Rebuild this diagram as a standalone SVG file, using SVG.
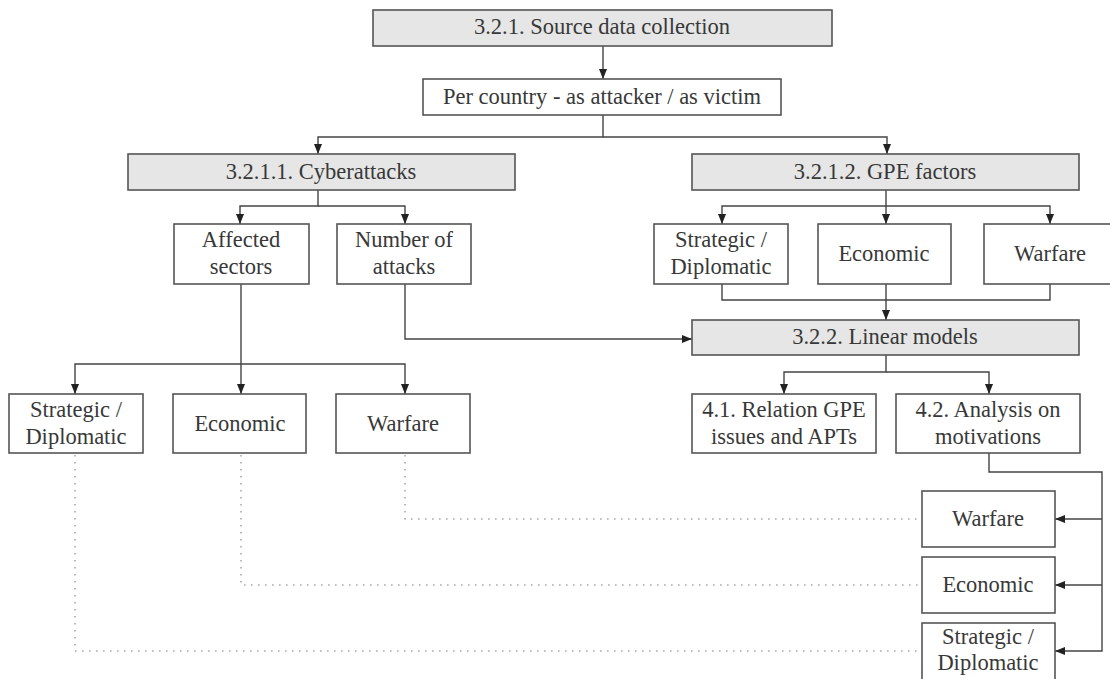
<svg xmlns="http://www.w3.org/2000/svg" width="1110" height="679" viewBox="0 0 1110 679">
<defs>
<style>
.box{fill:#ffffff;stroke:#555;stroke-width:1.6}
.gray{fill:#e6e6e6;stroke:#555;stroke-width:1.6}
.t{font-family:"Liberation Serif","Times New Roman",serif;font-size:22.5px;fill:#383838;text-anchor:middle}
.c{fill:none;stroke:#444;stroke-width:1.4}
.d{fill:none;stroke:#aaa;stroke-width:1.6;stroke-dasharray:1.6,5.4}
</style>
<marker id="ah" markerUnits="userSpaceOnUse" markerWidth="10" markerHeight="10" viewBox="0 0 10 10" refX="10" refY="5" orient="auto">
<path d="M0,1 L10,5 L0,9 Z" fill="#222"/>
</marker>
</defs>
<rect width="1110" height="679" fill="#ffffff"/>
<g id="connectors">
<path class="c" d="M603 46 V79" marker-end="url(#ah)"/>
<path class="c" d="M603 115 V137 H318 V154" marker-end="url(#ah)"/>
<path class="c" d="M603 137 H887 V154" marker-end="url(#ah)"/>
<path class="c" d="M318 190 V206 H240 V224" marker-end="url(#ah)"/>
<path class="c" d="M318 206 H405 V224" marker-end="url(#ah)"/>
<path class="c" d="M241 284 V394" marker-end="url(#ah)"/>
<path class="c" d="M241 364 H75 V394" marker-end="url(#ah)"/>
<path class="c" d="M241 364 H405 V394" marker-end="url(#ah)"/>
<path class="c" d="M405 284 V339 H692" marker-end="url(#ah)"/>
<path class="c" d="M886 190 V224" marker-end="url(#ah)"/>
<path class="c" d="M886 206 H722 V224" marker-end="url(#ah)"/>
<path class="c" d="M886 206 H1050 V224" marker-end="url(#ah)"/>
<path class="c" d="M722 284 V300 H1050 V284"/>
<path class="c" d="M886 284 V320" marker-end="url(#ah)"/>
<path class="c" d="M886 355 V372 H784 V394" marker-end="url(#ah)"/>
<path class="c" d="M886 372 H989 V394" marker-end="url(#ah)"/>
<path class="c" d="M989 453 V472 H1102 V651 H1055" marker-end="url(#ah)"/>
<path class="c" d="M1102 519 H1055" marker-end="url(#ah)"/>
<path class="c" d="M1102 585 H1055" marker-end="url(#ah)"/>
<path class="d" d="M405 455 V519 H922"/>
<path class="d" d="M241 455 V585 H922"/>
<path class="d" d="M75 455 V651 H922"/>
</g>
<g id="n-source"><rect class="gray" x="373" y="10" width="459" height="36"/><text class="t" x="602" y="34">3.2.1. Source data collection</text></g>
<g id="n-percountry"><rect class="box" x="423" y="79" width="358" height="36"/><text class="t" x="602" y="104">Per country - as attacker / as victim</text></g>
<g id="n-cyber"><rect class="gray" x="128" y="154" width="387" height="36"/><text class="t" x="321" y="179">3.2.1.1. Cyberattacks</text></g>
<g id="n-gpe"><rect class="gray" x="692" y="154" width="387" height="36"/><text class="t" x="885" y="179">3.2.1.2. GPE factors</text></g>
<g id="n-affected"><rect class="box" x="174" y="224" width="135" height="60"/><text class="t" x="241" y="247">Affected</text><text class="t" x="241" y="274">sectors</text></g>
<g id="n-number"><rect class="box" x="337" y="224" width="134" height="60"/><text class="t" x="404" y="247">Number of</text><text class="t" x="404" y="274">attacks</text></g>
<g id="n-gstrat"><rect class="box" x="654" y="224" width="134" height="60"/><text class="t" x="721" y="247">Strategic /</text><text class="t" x="721" y="274">Diplomatic</text></g>
<g id="n-gecon"><rect class="box" x="818" y="224" width="133" height="60"/><text class="t" x="884" y="261">Economic</text></g>
<g id="n-gwar"><rect class="box" x="984" y="224" width="134" height="60"/><text class="t" x="1050" y="261">Warfare</text></g>
<g id="n-linear"><rect class="gray" x="692" y="320" width="387" height="35"/><text class="t" x="885" y="344">3.2.2. Linear models</text></g>
<g id="n-cstrat"><rect class="box" x="9" y="394" width="134" height="59"/><text class="t" x="76" y="417">Strategic /</text><text class="t" x="76" y="444">Diplomatic</text></g>
<g id="n-cecon"><rect class="box" x="173" y="394" width="133" height="59"/><text class="t" x="240" y="431">Economic</text></g>
<g id="n-cwar"><rect class="box" x="336" y="394" width="134" height="59"/><text class="t" x="403" y="431">Warfare</text></g>
<g id="n-r41"><rect class="box" x="692" y="394" width="184" height="59"/><text class="t" x="784" y="417">4.1. Relation GPE</text><text class="t" x="784" y="444">issues and APTs</text></g>
<g id="n-r42"><rect class="box" x="896" y="394" width="184" height="59"/><text class="t" x="988" y="417">4.2. Analysis on</text><text class="t" x="988" y="444">motivations</text></g>
<g id="n-mwar"><rect class="box" x="922" y="491" width="133" height="56"/><text class="t" x="988" y="526">Warfare</text></g>
<g id="n-mecon"><rect class="box" x="922" y="557" width="133" height="56"/><text class="t" x="988" y="592">Economic</text></g>
<g id="n-mstrat"><rect class="box" x="922" y="623" width="133" height="58"/><text class="t" x="988" y="644">Strategic /</text><text class="t" x="988" y="670">Diplomatic</text></g>
</svg>
